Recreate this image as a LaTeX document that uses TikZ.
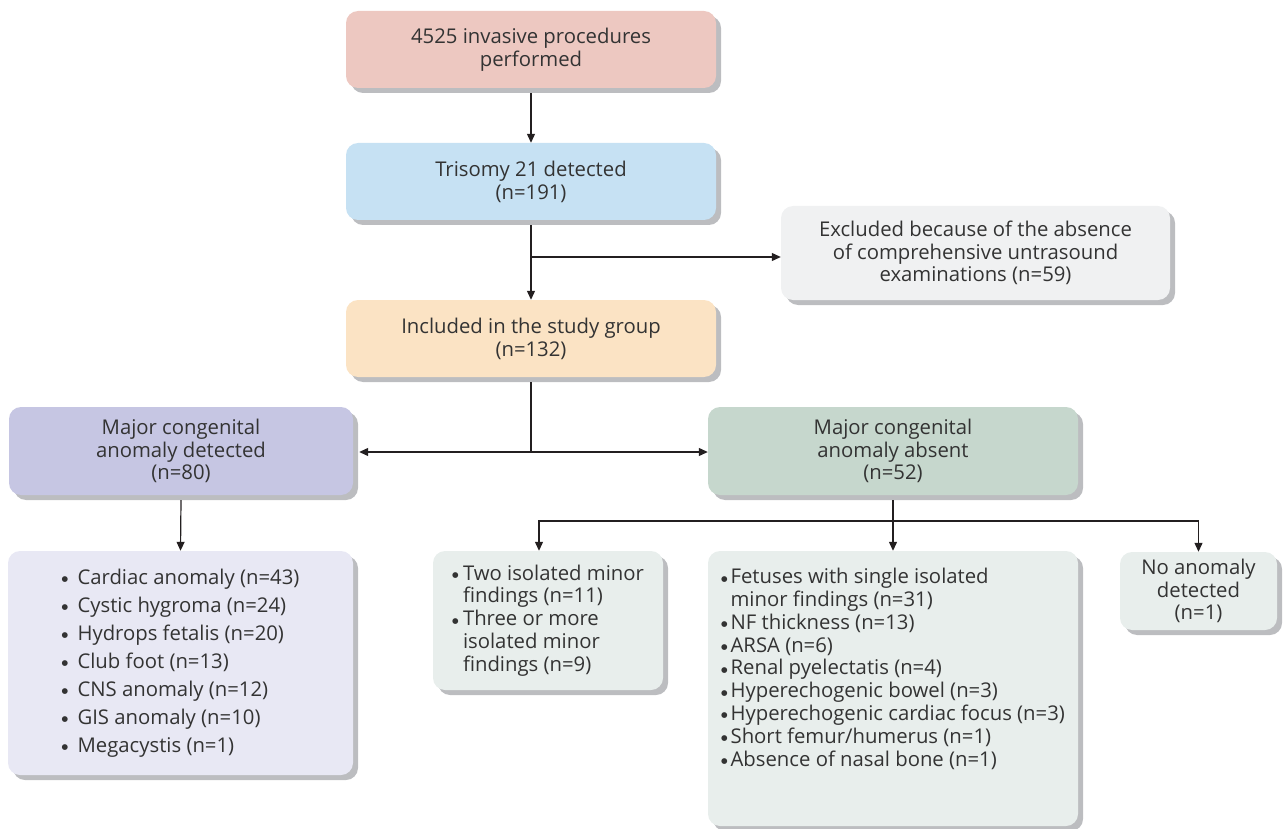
\documentclass[tikz,border=0pt]{standalone}
\usepackage{fontspec}
\setmainfont{Open Sans}
\newfontfamily\dejavu{DejaVu Sans}
\usetikzlibrary{arrows.meta,shadows,calc}
\definecolor{cPink}{HTML}{EDC8C1}
\definecolor{cBlue}{HTML}{C6E1F3}
\definecolor{cPeach}{HTML}{FBE3C4}
\definecolor{cExcl}{HTML}{F0F1F2}
\definecolor{cLav}{HTML}{C6C6E3}
\definecolor{cSage}{HTML}{C6D7CD}
\definecolor{cLavL}{HTML}{E8E8F4}
\definecolor{cSageL}{HTML}{E8EEEC}
\definecolor{cShadow}{HTML}{BCBDC0}
\definecolor{cText}{HTML}{333333}
\definecolor{cLine}{HTML}{231F20}
\newcommand\bul[1]{\makebox[#1][l]{\raisebox{2.6pt}{\fontsize{7.5}{7.5}\dejavu ●}}}
\begin{document}
\begin{tikzpicture}[x=1pt,y=-1pt,
  box/.style={rounded corners=12pt, inner sep=0pt, text=cText, align=center,
    font=\fontsize{20.3}{22.8}\selectfont,
    drop shadow={fill=cShadow, opacity=1, shadow xshift=5pt, shadow yshift=-5pt}},
  lst/.style={box, align=left},
  conn/.style={draw=cLine, line width=1.2pt},
  arr/.style={conn, -{Triangle[length=9pt,width=8pt]}}]
\useasboundingbox (0,0) rectangle (1283,829);

\node[box, fill=cPink, minimum width=370pt, minimum height=77pt] (b1) at (531,49.5)
  {4525 invasive procedures\\performed};
\node[box, fill=cBlue, minimum width=370pt, minimum height=77pt] (b2) at (531,181.5)
  {Trisomy 21 detected\\(n=191)};
\node[box, fill=cExcl, minimum width=389pt, minimum height=94pt] (ex) at (975.5,253)
  {Excluded because of the absence\\of comprehensive untrasound\\examinations (n=59)};
\node[box, fill=cPeach, minimum width=370pt, minimum height=77pt] (b3) at (531,338.5)
  {Included in the study group\\(n=132)};
\node[box, fill=cLav, minimum width=344pt, minimum height=88pt] (b4) at (181,451)
  {Major congenital\\anomaly detected\\(n=80)};
\node[box, fill=cSage, minimum width=370pt, minimum height=88pt] (b5) at (893,451)
  {Major congenital\\anomaly absent\\(n=52)};
\node[lst, fill=cLavL, minimum width=345pt, minimum height=224pt] (b6) at (180.5,663)
  {\bul{16pt}Cardiac anomaly (n=43)\\[5.2pt]
   \bul{16pt}Cystic hygroma (n=24)\\[5.2pt]
   \bul{16pt}Hydrops fetalis (n=20)\\[5.2pt]
   \bul{16pt}Club foot (n=13)\\[5.2pt]
   \bul{16pt}CNS anomaly (n=12)\\[5.2pt]
   \bul{16pt}GIS anomaly (n=10)\\[5.2pt]
   \bul{16pt}Megacystis (n=1)};
\node[lst, fill=cSageL, minimum width=230pt, minimum height=139pt] (b7) at (548,620.5)
  {\bul{11pt}Two isolated minor\\
   \hspace*{11pt}findings (n=11)\\
   \bul{11pt}Three or more\\
   \hspace*{11pt}isolated minor\\
   \hspace*{11pt}findings (n=9)};
\node[lst, fill=cSageL, minimum width=370pt, minimum height=275pt] (b8) at (893,688.5)
  {\bul{9.5pt}Fetuses with single isolated\\
   \hspace*{9.5pt}minor findings (n=31)\\
   \bul{9.5pt}NF thickness (n=13)\\
   \bul{9.5pt}ARSA (n=6)\\
   \bul{9.5pt}Renal pyelectatis (n=4)\\
   \bul{9.5pt}Hyperechogenic bowel (n=3)\\
   \bul{9.5pt}Hyperechogenic cardiac focus (n=3)\\
   \bul{9.5pt}Short femur/humerus (n=1)\\
   \bul{9.5pt}Absence of nasal bone (n=1)\\[20pt]\mbox{}};
\node[box, fill=cSageL, minimum width=157pt, minimum height=78pt] (b9) at (1198.5,591)
  {No anomaly\\detected\\(n=1)};

% connectors
\draw[arr] ([yshift=-5pt]b1.south) -- (b2.north);
\draw[arr] ([yshift=-5pt]b2.south) -- (b3.north);
\coordinate (j1) at (531,257);
\draw[arr] (j1) -- (j1 -| ex.west);
\coordinate (j2) at (531,452);
\draw[conn] ([yshift=-5pt]b3.south) -- (j2);
\draw[arr] (j2) -- ([xshift=6pt]b4.east |- j2);
\draw[arr] (j2) -- (j2 -| b5.west);
\draw[arr] ([yshift=-5pt]b4.south) -- (b6.north);
\coordinate (j3) at (893,521);
\draw[conn] ([yshift=-5pt]b5.south) -- (j3);
\coordinate (j4) at ($(b7.north)+(-9,0)$);
\draw[arr] (j3) -| (j4);
\draw[arr] (j3) -| (b9.north);
\draw[arr] (j3) -- (b8.north);
\end{tikzpicture}
\end{document}
